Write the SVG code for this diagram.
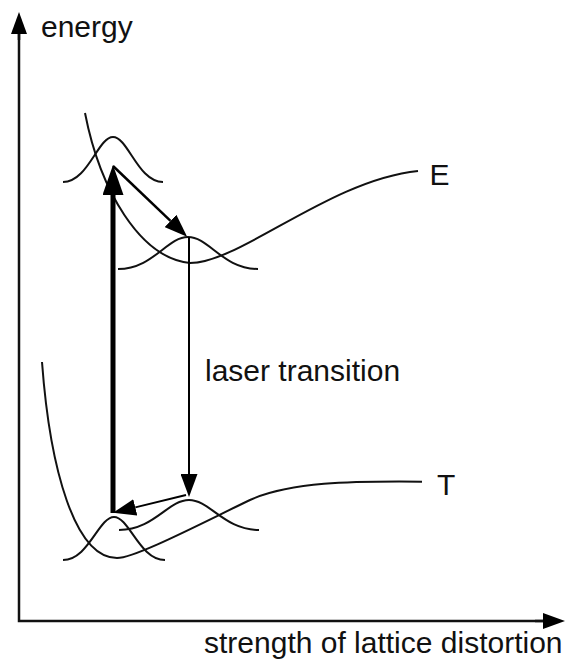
<svg xmlns="http://www.w3.org/2000/svg" width="566" height="662" viewBox="0 0 566 662">
<style>
.curve{fill:none;stroke:#111;stroke-width:2}
.axis{fill:none;stroke:#111;stroke-width:2.5}
.arr{fill:none;stroke:#000}
.lbl{font-family:"Liberation Sans",Arial,Helvetica,sans-serif;font-size:30px;fill:#111}
</style>
<defs>
<marker id="head" markerUnits="userSpaceOnUse" viewBox="0 0 23 17" markerWidth="23" markerHeight="17" refX="0" refY="8.5" orient="auto"><path d="M0,0 L23,8.5 L0,17 z" fill="#000"/></marker>
<marker id="headBig" markerUnits="userSpaceOnUse" viewBox="0 0 30 21" markerWidth="30" markerHeight="21" refX="0" refY="10.5" orient="auto"><path d="M0,0 L30,10.5 L0,21 z" fill="#000"/></marker>
<marker id="axisHead" markerUnits="userSpaceOnUse" viewBox="0 0 22 16" markerWidth="22" markerHeight="16" refX="0" refY="8" orient="auto"><path d="M0,0 L22,8 L0,16 z" fill="#000"/></marker>
</defs>
<g id="axes">
<path class="axis" d="M19,34 L19,621 L543,621"/>
<line class="axis" x1="19" y1="40" x2="19" y2="34" marker-end="url(#axisHead)"/>
<line class="axis" x1="535" y1="621" x2="543" y2="621" marker-end="url(#axisHead)"/>
<text class="lbl" x="41" y="36.5">energy</text>
<text class="lbl" x="204" y="653">strength of lattice distortion</text>
</g>
<g id="curve-E">
<path class="curve" d="M85,113 C100,190 140,258 190,263 C240,263 330,180 418,171"/>
<text class="lbl" x="429.5" y="185">E</text>
</g>
<g id="curve-T">
<path class="curve" d="M42,362 C50,470 75,558 117,558 C135,558 200,524 250,500 C290,482 350,481 422,481.7"/>
<text class="lbl" x="437" y="495">T</text>
</g>
<g id="gauss-upper-left"><path class="curve" d="M63,182 C88,182 98,137 113,137 C128,137 138,182 163,182"/></g>
<g id="gauss-upper-right"><path class="curve" d="M118,269 C153,269 167,237 188,237 C209,237 223,269 258,269"/></g>
<g id="gauss-lower-left"><path class="curve" d="M63,560 C88.5,560 98.7,517 114,517 C129.3,517 139.5,560 165,560"/></g>
<g id="gauss-lower-right"><path class="curve" d="M119,530 C154,530 168,500 189,500 C210,500 224,530 259,530"/></g>
<g id="connectors">
<line class="arr" stroke-width="5" x1="113" y1="513" x2="113" y2="195" marker-end="url(#headBig)"/>
<line class="arr" stroke-width="2.5" x1="113" y1="166" x2="170.5" y2="220.9" marker-end="url(#head)"/>
<line class="arr" stroke-width="2" x1="189" y1="237" x2="189" y2="474" marker-end="url(#head)"/>
<line class="arr" stroke-width="2" x1="186" y1="495" x2="135.3" y2="507.4" marker-end="url(#head)"/>
</g>
<g id="label-laser"><text class="lbl" x="205" y="381">laser transition</text></g>
</svg>
